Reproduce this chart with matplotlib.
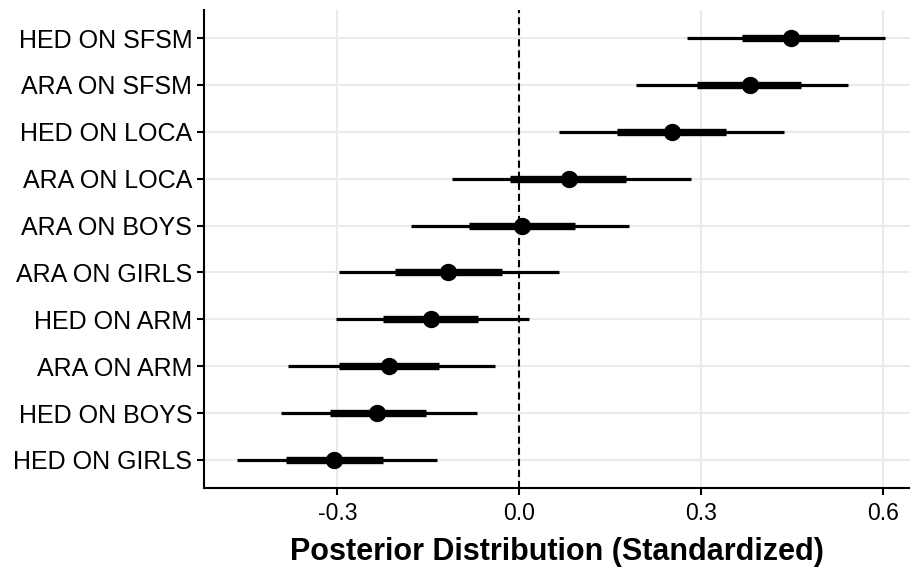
import matplotlib.pyplot as plt
import numpy as np

plt.rcParams['font.family'] = ['Liberation Sans', 'DejaVu Sans']

# effects, listed bottom to top
labels = ['HED ON GIRLS', 'HED ON BOYS', 'ARA ON ARM', 'HED ON ARM', 'ARA ON GIRLS',
          'ARA ON BOYS', 'ARA ON LOCA', 'HED ON LOCA', 'ARA ON SFSM', 'HED ON SFSM']
# posterior median
median = [-0.306, -0.235, -0.215, -0.145, -0.118, 0.005, 0.082, 0.253, 0.381, 0.449]
# inner interval (thick)
inner_lo = [-0.385, -0.312, -0.297, -0.224, -0.205, -0.082, -0.015, 0.162, 0.294, 0.368]
inner_hi = [-0.224, -0.153, -0.133, -0.068, -0.029, 0.093, 0.177, 0.342, 0.465, 0.528]
# outer interval (thin)
outer_lo = [-0.466, -0.393, -0.381, -0.303, -0.297, -0.178, -0.111, 0.066, 0.193, 0.277]
outer_hi = [-0.135, -0.069, -0.040, 0.017, 0.066, 0.181, 0.284, 0.437, 0.543, 0.603]

xticks = [-0.3, 0.0, 0.3, 0.6]

fig = plt.figure(figsize=(9.1, 5.68), dpi=100)
ax = fig.add_axes([0.2242, 0.1408, 0.7758, 0.8416])

y = np.arange(1, len(labels) + 1)

# reference line at zero
ax.axvline(0, color='black', lw=1.5, linestyle=(0, (3.4, 1.9)), zorder=2)

# intervals and points
ax.hlines(y, outer_lo, outer_hi, color='black', lw=2.3, zorder=3)
ax.hlines(y, inner_lo, inner_hi, color='black', lw=5.3, zorder=4)
ax.plot(median, y, 'o', color='black', markersize=11.5, zorder=5)

ax.set_xlim(-0.52, 0.645)
ax.set_ylim(0.4, 10.6)
ax.set_yticks(y)
ax.set_yticklabels(labels)
ax.set_xticks(xticks)
ax.set_xticklabels(['%.1f' % t for t in xticks])

# grid
ax.grid(True, color='#ebebeb', lw=1.5, zorder=0)
ax.set_axisbelow(True)

# axis lines only on left and bottom
for s in ['top', 'right']:
    ax.spines[s].set_visible(False)
for s in ['left', 'bottom']:
    ax.spines[s].set_linewidth(1.5)
    ax.spines[s].set_color('black')

ax.tick_params(axis='y', length=5, width=1.5, labelsize=18, pad=3.5, colors='black')
ax.tick_params(axis='x', length=5, width=1.5, labelsize=16.5, pad=5, colors='black')

ax.set_xlabel('Posterior Distribution (Standardized)', fontsize=22, fontweight='bold', labelpad=9)

fig.savefig('out.png', dpi=100)
